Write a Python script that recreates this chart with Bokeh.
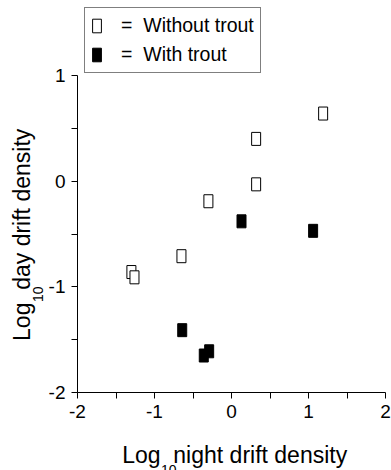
import math
from bokeh.plotting import figure
from bokeh.models import (Range1d, FixedTicker, Legend, LegendItem, LinearAxis,
                          CustomJSTickFormatter)
from bokeh.embed import file_html
from bokeh.resources import INLINE

# ---- data (log10 night drift density vs log10 day drift density) ----
night_without = [1.19, 0.32, 0.32, -0.30, -0.65, -1.30, -1.26]
day_without = [0.64, 0.40, -0.03, -0.19, -0.71, -0.86, -0.91]
night_with = [0.13, 1.06, -0.64, -0.29, -0.36]
day_with = [-0.38, -0.47, -1.41, -1.61, -1.65]

x_ticks = [-2, -1, 0, 1, 2]
x_minor = [-1.5, -0.5, 0.5, 1.5]
y_ticks = [-2, -1, 0, 1]
y_minor = [-1.5, -0.5, 0.5]

label_without = "=\u00a0\u00a0Without trout"
label_with = "=\u00a0\u00a0With trout"
x_title = ("Log", "10", "night drift density")
y_title = ("Log", "10", "day drift density")

NB = "\u00a0"
GAP = NB * 2
FONT = "Liberation Sans"
FW, AXIS_H, TOP = 308, 317, 75      # frame width, y-axis length, space above y=1
X0, X1, Y0, Y1 = -2, 2, -2, 1
Y_TOP = Y1 + TOP * (Y1 - Y0) / AXIS_H   # frame reaches the top so the key fits

p = figure(frame_width=FW, frame_height=AXIS_H + TOP,
           x_range=Range1d(X0, X1), y_range=Range1d(Y0, Y_TOP),
           output_backend="svg", toolbar_location=None,
           min_border_left=77, min_border_right=6,
           min_border_top=0, min_border_bottom=78)
p.xgrid.visible = False
p.ygrid.visible = False
p.outline_line_color = None
p.background_fill_color = "white"
p.border_fill_color = "white"

AX, SUB = 23, 14

for ax, t, m, b in ((p.xaxis[0], x_ticks, x_minor, (X0, X1)),
                    (p.yaxis[0], y_ticks, y_minor, (Y0, Y1))):
    ax.ticker = FixedTicker(ticks=t, minor_ticks=m)
    ax.bounds = b
    ax.major_label_overrides = {v: str(v) for v in t}
    ax.major_tick_in = 0
    ax.major_tick_out = 6
    ax.minor_tick_in = 0
    ax.minor_tick_out = 6
    ax.axis_line_color = "black"
    ax.major_tick_line_color = "black"
    ax.minor_tick_line_color = "black"
    ax.major_label_text_font = FONT
    ax.major_label_text_font_size = "19px"
    ax.major_label_text_color = "black"
    ax.major_label_standoff = 6
    ax.axis_label_text_font = FONT
    ax.axis_label_text_font_size = f"{AX}px"
    ax.axis_label_text_font_style = "normal"
    ax.axis_label_text_color = "black"

r_open = p.rect(x=night_without, y=day_without, width=9, height=13,
                width_units="screen", height_units="screen",
                fill_color="white", line_color="black", line_width=1)
r_fill = p.rect(x=night_with, y=day_with, width=9, height=13,
                width_units="screen", height_units="screen",
                fill_color="black", line_color="black", line_width=1)

legend = Legend(items=[LegendItem(label=label_without, renderers=[r_open]),
                       LegendItem(label=label_with, renderers=[r_fill])],
                location=(7, AXIS_H + 2), margin=0, padding=6, spacing=6,
                glyph_width=11, glyph_height=17, label_height=18,
                label_standoff=19,
                label_text_font=FONT, label_text_font_size="19.5px",
                label_text_color="black",
                border_line_color="black", border_line_width=1,
                background_fill_color="white", background_fill_alpha=1)
p.add_layout(legend, "center")

# ---- axis titles with a lowered subscript ----
WD = {"L": .556, "o": .556, "g": .556, "1": .556, "0": .556, "n": .556,
      "i": .222, "h": .556, "t": .278, " ": .278, NB: .278, "d": .556,
      "r": .333, "f": .278, "e": .556, "s": .5, "y": .5, "a": .556}


def tw(s, size):
    return sum(WD[c] for c in s) * size


def build_title(parts, pre, post):
    """main title string and pixel offset (from its centre) of the subscript centre"""
    main = pre + parts[0] + GAP + parts[2] + post
    off = -tw(main, AX) / 2 + tw(pre + parts[0], AX) + 0.5 + tw(parts[1], SUB) / 2
    return main, off


def quiet_axis(ax, size):
    ax.axis_line_color = None
    ax.major_tick_line_color = None
    ax.minor_tick_line_color = None
    ax.major_tick_out = 0
    ax.major_tick_in = 0
    ax.minor_tick_out = 0
    ax.minor_tick_in = 0
    ax.major_label_text_font = FONT
    ax.major_label_text_font_size = f"{size}px"
    ax.major_label_text_color = "black"
    ax.axis_label_text_font = FONT
    ax.axis_label_text_font_size = f"{AX}px"
    ax.axis_label_text_font_style = "normal"
    ax.axis_label_text_color = "black"


# x title: main text on the x axis, subscript on a bare axis below it
x_main, x_off = build_title(x_title, NB, "")
p.xaxis[0].axis_label = x_main
p.xaxis[0].axis_label_standoff = 21
xs = (X0 + X1) / 2 + x_off * (X1 - X0) / FW
sub_x = LinearAxis(ticker=FixedTicker(ticks=[xs], minor_ticks=[]),
                   formatter=CustomJSTickFormatter(code=f"return '{x_title[1]}'"))
quiet_axis(sub_x, SUB)
sub_x.major_label_standoff = -6
p.add_layout(sub_x, "below")

# y title: centred on the y axis (not on the taller frame) by trailing padding
n_pad = round(TOP / tw(NB, AX))
y_main, y_off = build_title(y_title, "", NB * n_pad)
ys = (Y0 + Y_TOP) / 2 + y_off * (Y1 - Y0) / AXIS_H
sub_y = LinearAxis(ticker=FixedTicker(ticks=[ys], minor_ticks=[]),
                   formatter=CustomJSTickFormatter(code=f"return '{y_title[1]}'"))
quiet_axis(sub_y, SUB)
sub_y.major_label_orientation = "vertical"
sub_y.major_label_standoff = 2
p.add_layout(sub_y, "left")

lab_y = LinearAxis(ticker=FixedTicker(ticks=[(Y0 + Y1) / 2], minor_ticks=[]),
                   formatter=CustomJSTickFormatter(code="return ' '"),
                   axis_label=y_main)
quiet_axis(lab_y, 1)
lab_y.major_label_standoff = 0
lab_y.axis_label_standoff = -8
p.add_layout(lab_y, "left")

open("out.html", "w").write(file_html(p, INLINE))
